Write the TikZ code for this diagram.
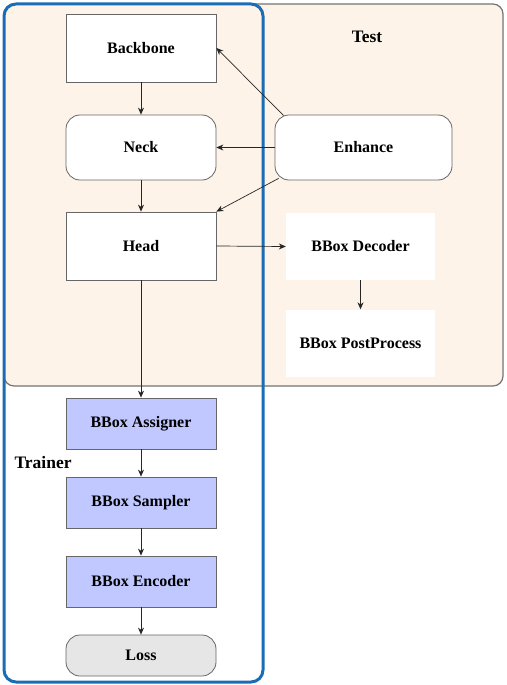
\documentclass[tikz,border=0pt]{standalone}
\usepackage{fontspec}
\setmainfont{Liberation Serif}
\usepackage{tikz}
\usetikzlibrary{positioning,arrows.meta}
\usepackage{xcolor}

\definecolor{testbg}{HTML}{FDF3E8}
\definecolor{trainblue}{HTML}{1A6DB5}
\definecolor{boxblue}{HTML}{C0C8FF}
\definecolor{lossgray}{HTML}{E6E6E6}

\begin{document}
\begin{tikzpicture}[
    x=1pt, y=-1pt,
    >={Stealth[length=7pt,width=6pt]},
    every node/.style={font=\fontsize{16}{19}\selectfont\bfseries},
    title/.style={font=\fontsize{17.5}{20}\selectfont\bfseries},
    block/.style={draw=gray!80!black, fill=white, line width=0.8pt, minimum width=150pt, inner sep=0pt},
    roundblock/.style={block, rounded corners=14pt},
    plainblock/.style={fill=white, minimum width=149pt, minimum height=67pt, inner sep=0pt},
    trainblock/.style={block, fill=boxblue, minimum height=51pt},
    link/.style={->, line width=0.7pt, black!85}
]
\useasboundingbox (0,0) rectangle (506,685);

% test area
\draw[fill=testbg, draw=gray!90!black, line width=1.2pt, rounded corners=10pt] (4,4) rectangle (503,386);
\node[title] at (367,37) {Test};

\node[block, minimum height=68pt] (bb) at (141,48) {Backbone};
\node[roundblock, minimum height=65pt] (nk) at (141,147.5) {Neck};
\node[block, minimum height=68pt] (hd) at (141,246) {Head};
\node[roundblock, minimum width=177pt, minimum height=65pt] (enh) at (363.5,147.5) {Enhance};
\node[plainblock] (dec) at (360.5,246.5) {BBox Decoder};
\node[plainblock] (post) at (360.5,343) {BBox PostProcess};

% trainer
\node[trainblock] (asg) at (141,423.5) {BBox Assigner};
\node[trainblock] (smp) at (141,502.5) {BBox Sampler};
\node[trainblock] (enc) at (141,581.5) {BBox Encoder};
\node[roundblock, fill=lossgray, minimum height=41pt] (loss) at (141,655.5) {Loss};
\node[title, anchor=west] at (11,463) {Trainer};

\draw[trainblue, line width=3pt, rounded corners=12pt] (4,4) rectangle (263,682);

\draw[link] (bb) -- (nk);
\draw[link] (nk) -- (hd);
\draw[link] ([xshift=9pt,yshift=-1pt]enh.north west) -- (bb.east);
\draw[link] (enh.west) -- (nk.east);
\draw[link] ([xshift=4pt,yshift=2pt]enh.south west) -- (hd.north east);
\draw[link] (hd.east) -- (dec.west);
\draw[link] (dec) -- (post);
\draw[link] (hd) -- (asg);
\draw[link] (asg) -- (smp);
\draw[link] (smp) -- (enc);
\draw[link] (enc) -- (loss);

\end{tikzpicture}
\end{document}
